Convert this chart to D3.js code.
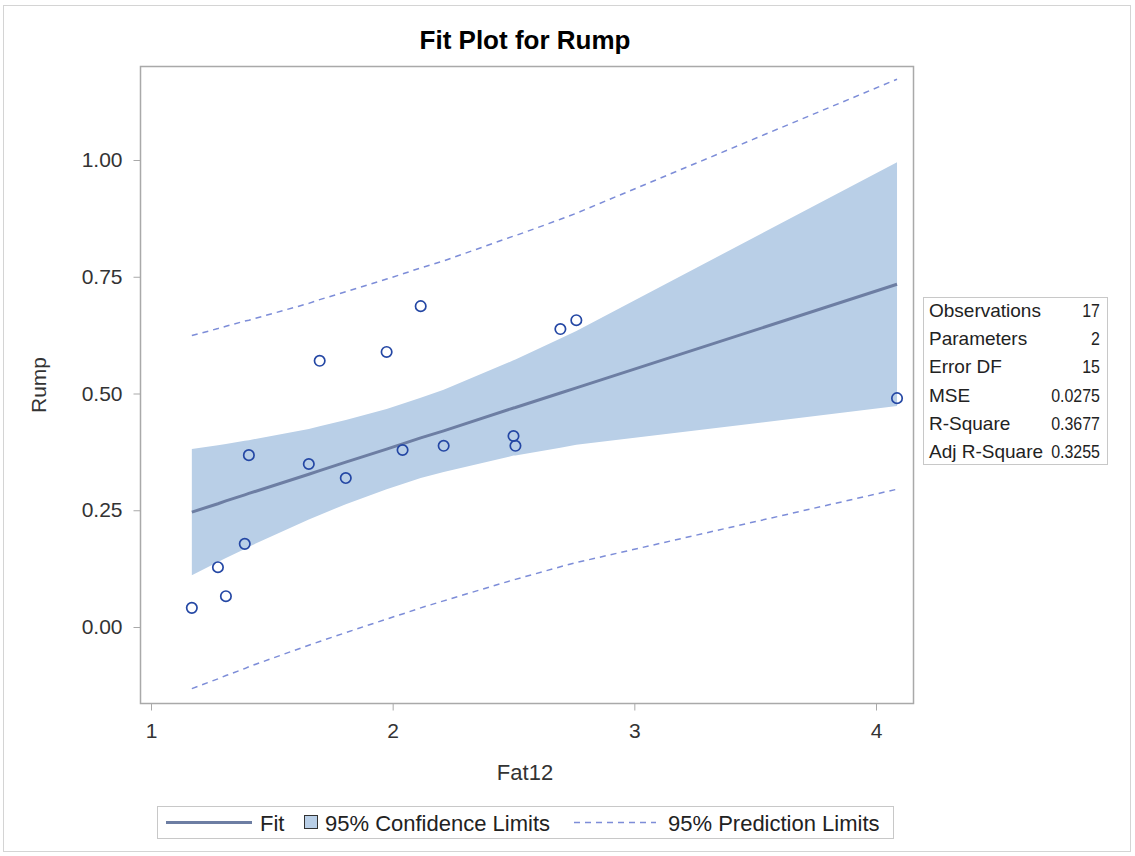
<!DOCTYPE html>
<html>
<head>
<meta charset="utf-8">
<script src="https://cdn.jsdelivr.net/npm/d3@7"></script>
<style>
  html, body { margin: 0; padding: 0; background: #fff; }
  svg { display: block; font-family: "Liberation Sans", Arial, sans-serif; }
</style>
</head>
<body>
<svg id="chart" width="1135" height="856"></svg>
<script>
// Observations: Fat12 (x) vs Rump (y)
const fat12 = [1.169, 1.277, 1.31, 1.388, 1.405, 1.653, 1.698, 1.806, 1.975, 2.041, 2.116, 2.211, 2.5, 2.508, 2.694, 2.76, 4.087];
const rump  = [0.041, 0.128, 0.066, 0.178, 0.368, 0.349, 0.570, 0.319, 0.589, 0.379, 0.687, 0.388, 0.409, 0.388, 0.638, 0.657, 0.490];

// Fitted line and limits evaluated at the sorted Fat12 values
const fitX      = [1.169, 1.277, 1.31, 1.388, 1.405, 1.653, 1.698, 1.806, 1.975, 2.041, 2.116, 2.211, 2.5, 2.508, 2.694, 2.76, 4.087];
const fitY      = [0.246, 0.264, 0.270, 0.283, 0.286, 0.327, 0.335, 0.353, 0.381, 0.392, 0.405, 0.420, 0.469, 0.470, 0.501, 0.512, 0.734];
const clmLower  = [0.111, 0.139, 0.148, 0.167, 0.172, 0.230, 0.240, 0.263, 0.295, 0.306, 0.319, 0.332, 0.367, 0.367, 0.384, 0.390, 0.473];
const clmUpper  = [0.381, 0.389, 0.392, 0.399, 0.400, 0.424, 0.430, 0.443, 0.467, 0.478, 0.491, 0.508, 0.571, 0.573, 0.618, 0.634, 0.995];
const predLower = [-0.132, -0.111, -0.104, -0.089, -0.085, -0.039, -0.031, -0.012, 0.017, 0.028, 0.041, 0.056, 0.101, 0.102, 0.129, 0.138, 0.295];
const predUpper = [0.624, 0.639, 0.644, 0.655, 0.657, 0.693, 0.701, 0.718, 0.745, 0.756, 0.769, 0.784, 0.837, 0.838, 0.873, 0.886, 1.173];

// Axis ticks
const xTicks = [1, 2, 3, 4];
const yTicks = [0, 0.25, 0.5, 0.75, 1.0];

// Fit statistics table
const statLabels = ["Observations", "Parameters", "Error DF", "MSE", "R-Square", "Adj R-Square"];
const statValues = ["17", "2", "15", "0.0275", "0.3677", "0.3255"];

const legendLabels = ["Fit", "95% Confidence Limits", "95% Prediction Limits"];

const colors = {
  fit: "#6d7ea3",
  band: "#b9cfe7",
  pred: "#7d8dd8",
  marker: "#2447a4",
  frame: "#a9a9a9",
  text: "#333333"
};

const svg = d3.select("#chart");

// Outer border
svg.append("rect")
  .attr("x", 3.5).attr("y", 5.5)
  .attr("width", 1127).attr("height", 846)
  .attr("fill", "none").attr("stroke", "#d4d4d4").attr("stroke-width", 1);

const frame = { left: 140, top: 66, right: 913, bottom: 703 };

const x = d3.scaleLinear().domain([1, 4]).range([151, 876]);
const y = d3.scaleLinear().domain([0, 1]).range([627, 160]);

// Title
svg.append("text")
  .attr("x", 525).attr("y", 49)
  .attr("text-anchor", "middle")
  .attr("font-size", 26).attr("font-weight", "bold").attr("fill", "#000")
  .text("Fit Plot for Rump");

// Plot area clip
svg.append("clipPath").attr("id", "plotClip")
  .append("rect")
  .attr("x", frame.left).attr("y", frame.top)
  .attr("width", frame.right - frame.left).attr("height", frame.bottom - frame.top);

const plot = svg.append("g").attr("clip-path", "url(#plotClip)");

const idx = d3.range(fitX.length);

// Confidence band
plot.append("path")
  .datum(idx)
  .attr("fill", colors.band)
  .attr("d", d3.area()
    .x(i => x(fitX[i]))
    .y0(i => y(clmLower[i]))
    .y1(i => y(clmUpper[i])));

// Prediction limits
[predLower, predUpper].forEach(arr => {
  plot.append("path")
    .datum(idx)
    .attr("fill", "none")
    .attr("stroke", colors.pred)
    .attr("stroke-width", 1.5)
    .attr("stroke-dasharray", "6,5")
    .attr("d", d3.line().x(i => x(fitX[i])).y(i => y(arr[i])));
});

// Fit line
plot.append("path")
  .datum(idx)
  .attr("fill", "none")
  .attr("stroke", colors.fit)
  .attr("stroke-width", 3)
  .attr("d", d3.line().x(i => x(fitX[i])).y(i => y(fitY[i])));

// Observations
plot.selectAll("circle.obs")
  .data(d3.range(fat12.length))
  .join("circle")
  .attr("class", "obs")
  .attr("cx", i => x(fat12[i]))
  .attr("cy", i => y(rump[i]))
  .attr("r", 5.2)
  .attr("fill", "none")
  .attr("stroke", colors.marker)
  .attr("stroke-width", 1.7);

// Frame
svg.append("rect")
  .attr("x", frame.left + 0.5).attr("y", frame.top + 0.5)
  .attr("width", frame.right - frame.left).attr("height", frame.bottom - frame.top)
  .attr("fill", "none").attr("stroke", colors.frame).attr("stroke-width", 1.5);

// X axis
const xAxis = svg.append("g")
  .attr("transform", `translate(0,${frame.bottom + 0.5})`)
  .call(d3.axisBottom(x).tickValues(xTicks).tickFormat(d3.format("d")).tickSize(7).tickPadding(13));
xAxis.select(".domain").remove();
xAxis.selectAll(".tick line").attr("stroke", colors.frame);
xAxis.selectAll(".tick text").attr("font-size", 21).attr("fill", colors.text)
  .attr("font-family", "'Liberation Sans', Arial, sans-serif");

// Y axis
const yAxis = svg.append("g")
  .attr("transform", `translate(${frame.left + 0.5},0)`)
  .call(d3.axisLeft(y).tickValues(yTicks).tickFormat(d3.format(".2f")).tickSize(7).tickPadding(11));
yAxis.select(".domain").remove();
yAxis.selectAll(".tick line").attr("stroke", colors.frame);
yAxis.selectAll(".tick text").attr("font-size", 21).attr("fill", colors.text)
  .attr("font-family", "'Liberation Sans', Arial, sans-serif");

// Axis labels
svg.append("text")
  .attr("x", 525).attr("y", 780)
  .attr("text-anchor", "middle")
  .attr("font-size", 22).attr("fill", colors.text)
  .text("Fat12");

svg.append("text")
  .attr("transform", `translate(46,385) rotate(-90)`)
  .attr("text-anchor", "middle")
  .attr("font-size", 21).attr("fill", colors.text)
  .text("Rump");

// Fit statistics inset
const stats = svg.append("g").attr("transform", "translate(923,297)");
stats.append("rect")
  .attr("x", 0.5).attr("y", 0.5).attr("width", 184).attr("height", 167)
  .attr("fill", "#fff").attr("stroke", "#c8c8c8");
statLabels.forEach((lab, i) => {
  const ty = 20 + i * 28.2;
  stats.append("text").attr("x", 6).attr("y", ty)
    .attr("font-size", 19).attr("fill", "#222").text(lab);
  const v = stats.append("text").attr("x", 177).attr("y", ty)
    .attr("text-anchor", "end")
    .attr("font-size", 19).attr("fill", "#222").text(statValues[i]);
  // narrow the numeric column so it sits beside the longest label
  const w = v.node().getComputedTextLength();
  v.attr("textLength", w * 0.84).attr("lengthAdjust", "spacingAndGlyphs");
});

// Legend
const leg = svg.append("g").attr("transform", "translate(157,806)");
leg.append("rect")
  .attr("x", 0.5).attr("y", 0.5).attr("width", 736).attr("height", 32)
  .attr("fill", "#fff").attr("stroke", "#c8c8c8");
const ly = 16.5;
leg.append("line")
  .attr("x1", 9).attr("x2", 95).attr("y1", ly).attr("y2", ly)
  .attr("stroke", colors.fit).attr("stroke-width", 3);
leg.append("text").attr("x", 103).attr("y", ly + 8)
  .attr("font-size", 22).attr("fill", "#222").text(legendLabels[0]);
leg.append("rect")
  .attr("x", 147.5).attr("y", 9.5).attr("width", 13).attr("height", 13)
  .attr("fill", colors.band).attr("stroke", "#333").attr("stroke-width", 1);
leg.append("text").attr("x", 168).attr("y", ly + 8)
  .attr("font-size", 22).attr("fill", "#222").text(legendLabels[1]);
leg.append("line")
  .attr("x1", 417).attr("x2", 499).attr("y1", ly).attr("y2", ly)
  .attr("stroke", colors.pred).attr("stroke-width", 1.5).attr("stroke-dasharray", "6,5");
leg.append("text").attr("x", 511).attr("y", ly + 8)
  .attr("font-size", 22).attr("fill", "#222").text(legendLabels[2]);
</script>
</body>
</html>
